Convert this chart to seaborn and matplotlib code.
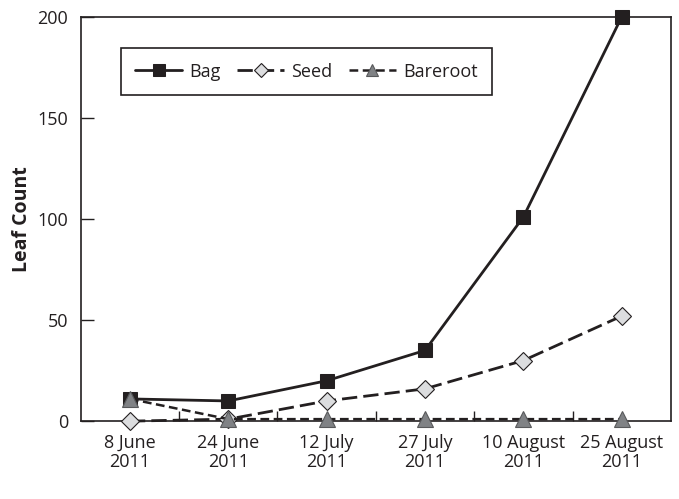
import pandas as pd
import matplotlib
matplotlib.use('Agg')
import matplotlib.pyplot as plt
import seaborn as sns
from matplotlib.ticker import FixedLocator

# Data
dates = ['8 June\n2011', '24 June\n2011', '12 July\n2011',
         '27 July\n2011', '10 August\n2011', '25 August\n2011']
bag = [11, 10, 20, 35, 101, 200]
seed = [0, 1, 10, 16, 30, 52]
bareroot = [11, 1, 1, 1, 1, 1]

df = pd.DataFrame({'date': dates, 'Bag': bag, 'Seed': seed, 'Bareroot': bareroot})

sns.set_style('ticks')
plt.rcParams['font.family'] = ['Open Sans', 'DejaVu Sans']

fig = plt.figure(figsize=(6.79, 4.99), dpi=100)
ax = fig.add_axes([0.119, 0.156, 0.869, 0.810])

# Bag - solid line with black squares
sns.lineplot(data=df, x='date', y='Bag', ax=ax, sort=False, color='#231f20',
             linewidth=2, marker='s', markersize=10, markerfacecolor='#231f20',
             markeredgecolor='#231f20', label='Bag', zorder=3, clip_on=False)
# Seed - long dashes with light grey diamonds
sns.lineplot(data=df, x='date', y='Seed', ax=ax, sort=False, color='#231f20',
             linewidth=2, linestyle=(0, (5.5, 2.2)), marker='D', markersize=9,
             markerfacecolor='#dcdddf', markeredgecolor='#231f20',
             markeredgewidth=0.8, label='Seed', zorder=4, clip_on=False)
# Bareroot - short dashes with grey triangles
sns.lineplot(data=df, x='date', y='Bareroot', ax=ax, sort=False, color='#231f20',
             linewidth=1.8, linestyle=(0, (3.5, 1.8)), marker='^', markersize=11,
             markerfacecolor='#808285', markeredgecolor='#58595b',
             markeredgewidth=0.8, label='Bareroot', zorder=5, clip_on=False)

ax.set_xlim(-0.5, len(dates) - 0.5)
ax.set_ylim(0, 200)
ax.set_yticks([0, 50, 100, 150, 200])
ax.set_xticks(range(len(dates)))
ax.set_xticklabels(dates, linespacing=1.1)
ax.xaxis.set_minor_locator(FixedLocator([i + 0.5 for i in range(len(dates) - 1)]))
ax.tick_params(axis='x', which='major', length=0, labelsize=13, pad=9, colors='#231f20')
ax.tick_params(axis='x', which='minor', direction='in', length=7, width=1, color='#231f20')
ax.tick_params(axis='y', direction='in', length=9, width=1, labelsize=13, color='#231f20',
               labelcolor='#231f20', pad=9)
for s in ax.spines.values():
    s.set_color('#231f20')
    s.set_linewidth(1.2)

ax.set_xlabel('')
ax.set_ylabel('Leaf Count', fontsize=14, fontweight='bold', labelpad=4, color='#231f20')

leg = ax.legend(loc='upper left', bbox_to_anchor=(0.068, 0.923), borderaxespad=0,
                ncol=3, fontsize=13, frameon=True, fancybox=False, framealpha=1,
                edgecolor='#231f20', handlelength=2.6, columnspacing=0.9,
                handletextpad=0.4, borderpad=0.8, markerscale=0.8)
leg.get_frame().set_linewidth(1.2)
for t in leg.get_texts():
    t.set_color('#231f20')

fig.savefig('out.png', dpi=100)
